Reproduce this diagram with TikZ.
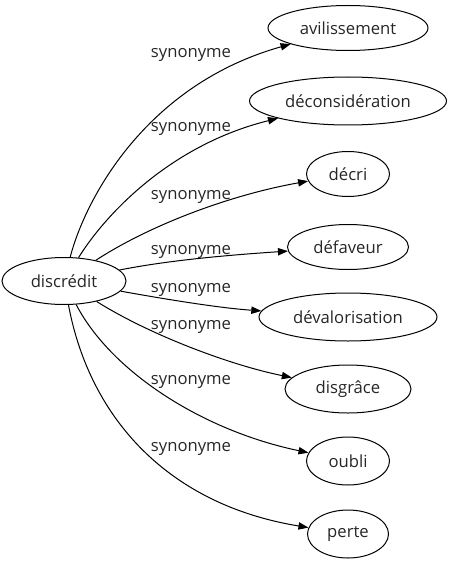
\documentclass[tikz,border=0pt]{standalone}
\usepackage{fontspec}
\setmainfont{Open Sans}
\usepackage{tikz}
\usetikzlibrary{shapes.geometric}
\usetikzlibrary{arrows.meta}

\tikzset{
  word/.style={shape=ellipse, draw=black, line width=0.75pt, inner sep=0pt,
    font=\fontsize{12.5}{15}\selectfont, text=black!85},
  syn/.style={draw=black, line width=0.75pt, -{Triangle[length=7.5pt,width=5.5pt]}},
  rel/.style={font=\fontsize{12.5}{15}\selectfont, text=black!85, inner sep=0pt}
}

\begin{document}
\begin{tikzpicture}[x=0.75pt,y=-0.75pt]
  \useasboundingbox (0,0) rectangle (451,563);

  % source word
  \node[word, minimum width=124*0.75pt, minimum height=47*0.75pt] (discr) at (64,281) {discrédit};

  % synonyms
  \node[word, minimum width=160*0.75pt, minimum height=45*0.75pt] (avil)   at (348,28)  {avilissement};
  \node[word, minimum width=197*0.75pt, minimum height=48*0.75pt] (decons) at (348,101) {déconsidération};
  \node[word, minimum width=83*0.75pt,  minimum height=45*0.75pt] (decri)  at (348,174) {décri};
  \node[word, minimum width=121*0.75pt, minimum height=45*0.75pt] (defav)  at (348,247) {défaveur};
  \node[word, minimum width=178*0.75pt, minimum height=48*0.75pt] (deval)  at (348,317) {dévalorisation};
  \node[word, minimum width=126*0.75pt, minimum height=48*0.75pt] (disgr)  at (348,389) {disgrâce};
  \node[word, minimum width=83*0.75pt,  minimum height=48*0.75pt] (oubli)  at (348,461) {oubli};
  \node[word, minimum width=81*0.75pt,  minimum height=48*0.75pt] (perte)  at (348,534) {perte};

  % edges
  \draw[syn] (discr) .. controls (85,200)  and (145,85)  .. (avil);
  \draw[syn] (discr) .. controls (105,215) and (170,145) .. (decons);
  \draw[syn] (discr) .. controls (150,225) and (230,195) .. (decri);
  \draw[syn] (discr) .. controls (170,260) and (230,255) .. (defav);
  \draw[syn] (discr) .. controls (170,300) and (220,308) .. (deval);
  \draw[syn] (discr) .. controls (150,335) and (230,365) .. (disgr);
  \draw[syn] (discr) .. controls (110,370) and (200,430) .. (oubli);
  \draw[syn] (discr) .. controls (90,420)  and (170,505) .. (perte);

  % edge labels
  \foreach \n/\y in {1/55,2/129,3/197,4/252,5/290,6/327,7/382,8/449}
    \node[rel] (l\n) at (191,\y) {synonyme};

\end{tikzpicture}
\end{document}
